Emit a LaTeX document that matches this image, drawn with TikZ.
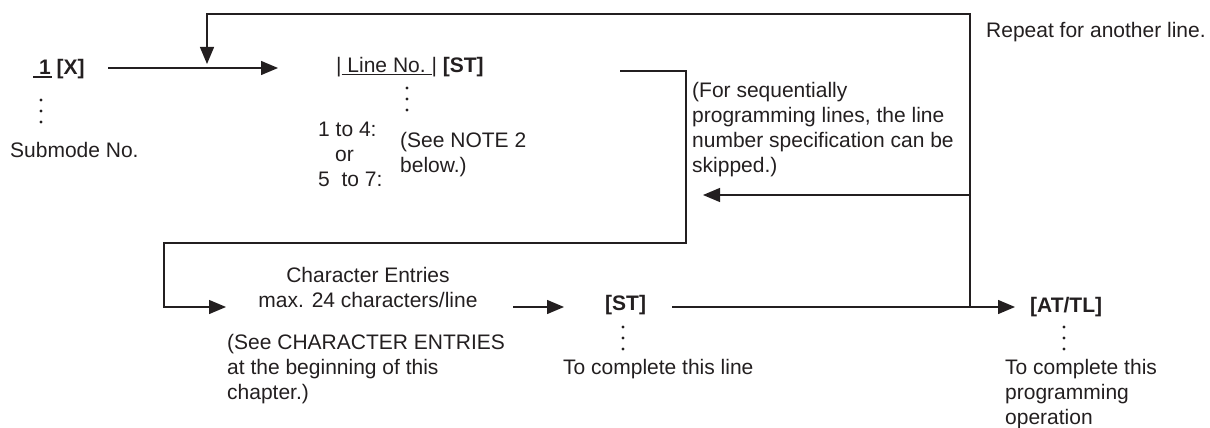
\documentclass[tikz,border=0pt]{standalone}
\usepackage{fontspec}
\setmainfont{Liberation Sans}
\usetikzlibrary{arrows.meta}
\definecolor{ink}{RGB}{35,31,32}
\tikzset{
  txt/.style={font=\fontsize{21}{25}\selectfont, inner sep=0pt, text=ink, anchor=base west},
  ctxt/.style={font=\fontsize{21}{25}\selectfont, inner sep=0pt, text=ink, anchor=base, align=center},
  ln/.style={draw=ink, line width=1.3pt},
  arr/.style={ln, -{Triangle[length=17pt,width=14pt]}},
  dot/.style={circle, fill=ink, inner sep=0pt, minimum size=3.2pt}
}
\begin{document}
\begin{tikzpicture}[x=1pt,y=-1pt]
\useasboundingbox (0,0) rectangle (1210,428);

% texts (multi-line nodes: base = baseline of last line)
\node[txt] (n1) at (39,74.5) {\textbf{1 [X]}};
\draw[ln] ([xshift=-6pt,yshift=-2.5pt]n1.base west) coordinate (u1) -- ++(19,0) coordinate (u2);
\node[dot] (d1a) at (41,100) {};
\node[dot] (d1b) at (41,111) {};
\node[dot] (d1c) at (41,122) {};
\node[txt] (sub) at (10,157.5) {Submode No.};

\node[txt] (lno) at (336,72.5) {|\underline{\ Line No.\ }|\ \textbf{[ST]}};
\node[dot] (d2a) at (407,88) {};
\node[dot] (d2b) at (407,99) {};
\node[dot] (d2c) at (407,110) {};
\node[txt, align=left] (rng) at (318,186) {1 to 4:\\\hspace{17pt}or\\5\ \ to 7:};
\node[txt, align=left] (note) at (400,172) {(See NOTE 2\\below.)};

\node[txt, align=left] (seq) at (692,172.5) {(For sequentially\\programming lines, the line\\number specification can be\\skipped.)};
\node[txt] (rep) at (986,37.5) {Repeat for another line.};

\node[ctxt] (ce) at (368,307.5) {Character Entries\\max. 24 characters/line};
\node[txt, align=left] (see) at (227,399.5) {(See CHARACTER ENTRIES\\at the beginning of this\\chapter.)};

\node[txt] (st) at (605,310.5) {\textbf{[ST]}};
\node[dot] (d3a) at (623,327) {};
\node[dot] (d3b) at (623,338) {};
\node[dot] (d3c) at (623,349) {};
\node[txt] (tcl) at (563,374.5) {To complete this line};

\node[txt] (at) at (1030,312) {\textbf{[AT/TL]}};
\node[dot] (d4a) at (1064,327) {};
\node[dot] (d4b) at (1064,338) {};
\node[dot] (d4c) at (1064,349) {};
\node[txt, align=left] (tcp) at (1005,424.5) {To complete this\\programming\\operation};

% connector coordinates
\coordinate (a1s) at (108,68);
\coordinate (a1e) at (278,68);
\coordinate (b0) at (620,71);
\coordinate (b1) at (686,71);
\coordinate (b2) at (686,243);
\coordinate (b3) at (164,243);
\coordinate (b4) at (164,307);
\coordinate (b5) at (226,307);
\coordinate (c1) at (513,307);
\coordinate (c2) at (564,307);
\coordinate (e1) at (672,307);
\coordinate (e2) at (1015,307);
\coordinate (j) at (970,307);
\coordinate (jt) at (970,14);
\coordinate (lt) at (207,14);
\coordinate (lb) at (207,64);
\coordinate (m1) at (970,195);
\coordinate (m2) at (703,195);

% connectors
\draw[arr] (a1s) -- (a1e);
\draw[arr] (j) -- (jt) -- (lt) -- (lb);
\draw[arr] (b0) -- (b1) -- (b2) -- (b3) -- (b4) -- (b5);
\draw[arr] (c1) -- (c2);
\draw[arr] (e1) -- (e2);
\draw[arr] (m1) -- (m2);
\end{tikzpicture}
\end{document}
